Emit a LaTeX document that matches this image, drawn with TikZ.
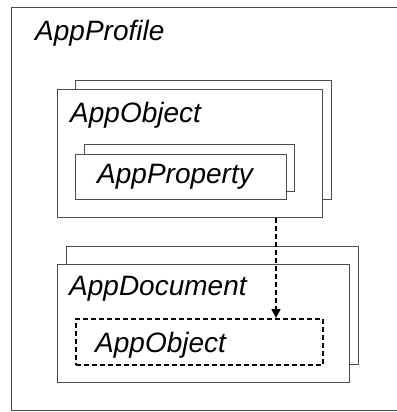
\documentclass[tikz,border=0pt]{standalone}
\usepackage{fontspec}
\setmainfont{Liberation Sans}
\usetikzlibrary{arrows.meta}
\tikzset{
  frame/.style={draw=black!70, line width=0.9pt, fill=white, inner sep=0pt, anchor=north west},
  dashframe/.style={draw=black, line width=1.6pt, dash pattern=on 5pt off 3pt, inner sep=0pt, anchor=north west},
  lbl/.style={anchor=base west, inner sep=0pt, font=\fontsize{28}{32}\selectfont\itshape}
}
\begin{document}
\begin{tikzpicture}[x=1pt,y=-1pt]
\useasboundingbox (0,0) rectangle (396,412);
% outer profile frame
\node [frame, minimum width=389pt, minimum height=402.5pt] (profile) at (11,7.5) {};
\node [lbl] (profilelbl) at (35,41) {AppProfile};

% AppObject stack
\node [frame, minimum width=256pt, minimum height=119pt] (objback) at (75,80) {};
\node [frame, minimum width=265pt, minimum height=128pt] (obj) at (57,89) {};
\node [lbl] (objlbl) at (70,122) {AppObject};
\node [frame, minimum width=210pt, minimum height=47pt] (propback) at (84,144) {};
\node [frame, minimum width=211pt, minimum height=45pt] (prop) at (75,154) {};
\node [lbl] (proplbl) at (97,183) {AppProperty};

% AppDocument stack
\node [frame, minimum width=292pt, minimum height=118pt] (docback) at (66,246) {};
\node [frame, minimum width=292pt, minimum height=118pt] (doc) at (57,264) {};
\node [lbl] (doclbl) at (69,295) {AppDocument};
\node [dashframe, minimum width=247pt, minimum height=46pt] (docobj) at (75,318) {};
\node [lbl] (docobjlbl) at (95,352) {AppObject};

% reference
\coordinate (refx) at (276,0);
\draw [line width=1.6pt, dash pattern=on 5pt off 3pt, -{Triangle[length=9pt,width=9pt,sep=0pt]}]
  (obj.south -| refx) -- (docobj.north -| refx);
\end{tikzpicture}
\end{document}
